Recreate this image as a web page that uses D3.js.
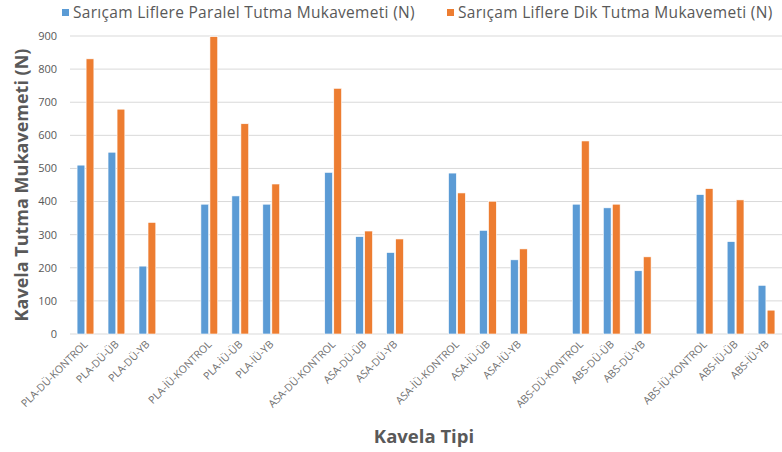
<!DOCTYPE html>
<html>
<head>
<meta charset="utf-8">
<script src="https://cdn.jsdelivr.net/npm/d3@7"></script>
<style>
  body { margin: 0; background: #fff; }
  svg { display: block; font-family: "Open Sans", "DejaVu Sans", sans-serif; }
</style>
</head>
<body>
<svg id="chart" width="782" height="452"></svg>
<script>
const categories = [
  'PLA-DÜ-KONTROL', 'PLA-DÜ-ÜB', 'PLA-DÜ-YB',
  'PLA-İÜ-KONTROL', 'PLA-İÜ-ÜB', 'PLA-İÜ-YB',
  'ASA-DÜ-KONTROL', 'ASA-DÜ-ÜB', 'ASA-DÜ-YB',
  'ASA-İÜ-KONTROL', 'ASA-İÜ-ÜB', 'ASA-İÜ-YB',
  'ABS-DÜ-KONTROL', 'ABS-DÜ-ÜB', 'ABS-DÜ-YB',
  'ABS-İÜ-KONTROL', 'ABS-İÜ-ÜB', 'ABS-İÜ-YB'
];
const paralel = [510, 549, 205, 392, 417, 392, 488, 294, 246, 486, 313, 224, 392, 381, 191, 421, 279, 147];
const dik     = [831, 679, 337, 898, 635, 453, 742, 311, 287, 426, 401, 257, 583, 392, 233, 439, 405, 72];
const seriesNames = ['Sarıçam Liflere Paralel Tutma Mukavemeti (N)', 'Sarıçam Liflere Dik Tutma Mukavemeti (N)'];
const colors = ['#5B9BD5', '#ED7D31'];
const yTicks = [0, 100, 200, 300, 400, 500, 600, 700, 800, 900];

(function () {
  const svg = d3.select('#chart');
  const plotL = 70, plotR = 782, plotT = 36, plotB = 334;

  // every 3 categories an empty slot follows (as in the original sheet)
  const slotOf = i => i + Math.floor(i / 3);
  const nSlots = slotOf(categories.length - 1) + 1;

  const x = d3.scaleBand().domain(d3.range(nSlots)).range([plotL, plotR]);
  const inner = d3.scaleBand().domain([0, 1])
    .range([x.bandwidth() / 2 - 8.4, x.bandwidth() / 2 + 8.4]).paddingInner(0.14);
  const y = d3.scaleLinear().domain([0, 900]).range([plotB, plotT]);

  // grid
  svg.append('g')
    .selectAll('line').data(yTicks).join('line')
    .attr('x1', plotL).attr('x2', plotR)
    .attr('y1', d => y(d)).attr('y2', d => y(d))
    .attr('stroke', '#d9d9d9').attr('stroke-width', 1);

  // y tick labels
  svg.append('g')
    .selectAll('text').data(yTicks).join('text')
    .attr('x', 57).attr('y', d => y(d)).attr('dy', '0.35em')
    .attr('text-anchor', 'end')
    .attr('font-size', 11).attr('fill', '#595959')
    .text(d => d);

  // bars
  const rows = categories.map((c, i) => ({ c, i, vals: [paralel[i], dik[i]] }));
  const groups = svg.append('g').selectAll('g').data(rows).join('g')
    .attr('transform', d => `translate(${x(slotOf(d.i))},0)`);
  groups.selectAll('rect').data(d => d.vals.map((v, s) => ({ v, s }))).join('rect')
    .attr('x', d => inner(d.s))
    .attr('width', inner.bandwidth())
    .attr('y', d => y(d.v))
    .attr('height', d => y(0) - y(d.v))
    .attr('fill', d => colors[d.s])
    .attr('stroke', '#fff').attr('stroke-width', 0.6);

  // x labels
  svg.append('g')
    .selectAll('text').data(rows).join('text')
    .attr('transform', d => `translate(${x(slotOf(d.i)) + x.bandwidth() / 2 + 3},${plotB + 11}) rotate(-45)`)
    .attr('text-anchor', 'end')
    .attr('font-size', 10.5).attr('fill', '#6f6f6f')
    .text(d => d.c);

  // axis titles
  svg.append('text')
    .attr('transform', `translate(28,${(plotT + plotB) / 2}) rotate(-90)`)
    .attr('text-anchor', 'middle')
    .attr('font-size', 18).attr('font-weight', 'bold').attr('fill', '#595959')
    .text('Kavela Tutma Mukavemeti (N)');

  svg.append('text')
    .attr('x', 424).attr('y', 443)
    .attr('text-anchor', 'middle')
    .attr('font-size', 18.5).attr('font-weight', 'bold').attr('fill', '#595959')
    .text('Kavela Tipi');

  // legend
  const legendX = [62, 447];
  const legend = svg.append('g').selectAll('g').data(seriesNames).join('g')
    .attr('transform', (d, i) => `translate(${legendX[i]},13)`);
  legend.append('rect')
    .attr('x', 0).attr('y', -4).attr('width', 7).attr('height', 7)
    .attr('fill', (d, i) => colors[i]);
  legend.append('text')
    .attr('x', 11).attr('y', 0).attr('dy', '0.35em')
    .attr('font-size', 15.5).attr('letter-spacing', 0.3).attr('fill', '#595959')
    .text(d => d);
})();
</script>
</body>
</html>
